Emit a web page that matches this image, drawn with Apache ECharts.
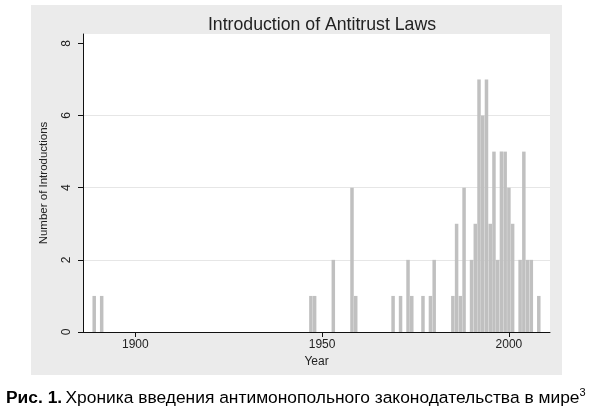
<!DOCTYPE html>
<html>
<head>
<meta charset="utf-8">
<script src="https://cdn.jsdelivr.net/npm/echarts@6/dist/echarts.min.js"></script>
<style>
  html, body { margin: 0; padding: 0; background: #fff; }
  #chart { width: 595px; height: 412px; }
</style>
</head>
<body>
<div id="chart"></div>
<script>
// years with at least one antitrust law introduced, and how many
var years = [1889, 1891, 1947, 1948, 1953, 1958, 1959, 1969, 1971, 1973, 1974, 1977, 1979, 1980,
  1985, 1986, 1987, 1988, 1990, 1991, 1992, 1993, 1994, 1995, 1996, 1997, 1998, 1999,
  2000, 2001, 2003, 2004, 2005, 2006, 2008];
var counts = [1, 1, 1, 1, 2, 4, 1, 1, 1, 2, 1, 1, 1, 2,
  1, 3, 1, 4, 2, 3, 7, 6, 7, 3, 5, 2, 5, 5,
  4, 3, 2, 5, 2, 2, 1];
var xTicks = [1900, 1950, 2000];
var yTicks = [0, 2, 4, 6, 8];

var font = 'Liberation Sans, Arial, sans-serif';
var chart = echarts.init(document.getElementById('chart'));

chart.setOption({
  backgroundColor: '#fff',
  animation: false,
  title: {
    text: 'Introduction of Antitrust Laws',
    left: 317,
    textAlign: 'center',
    top: 11,
    textStyle: { fontFamily: font, fontSize: 17.7, fontWeight: 'normal', color: '#222' }
  },
  graphic: [
    { // gray stata panel
      type: 'rect', z: -10, silent: true,
      shape: { x: 31, y: 5, width: 531, height: 370 },
      style: { fill: '#ebebeb' }
    },
    {
      type: 'text', left: 6, top: 387,
      style: {
        text: '{b|Рис. 1.} {n|Хроника введения антимонопольного законодательства в мире}{s|3}',
        rich: {
          b: { fontFamily: font, fontSize: 17.4, fontWeight: 'bold', color: '#111', lineHeight: 22 },
          n: { fontFamily: font, fontSize: 17.4, color: '#111', lineHeight: 22 },
          s: { fontFamily: font, fontSize: 11, color: '#111', verticalAlign: 'top', lineHeight: 22 }
        }
      }
    }
  ],
  grid: {
    left: 83, right: 45, top: 34, bottom: 80,
    show: true, backgroundColor: '#fff', borderWidth: 0
  },
  xAxis: {
    type: 'value',
    min: 1886,
    max: 2011,
    name: 'Year',
    nameLocation: 'middle',
    nameGap: 22,
    nameTextStyle: { fontFamily: font, fontSize: 12, color: '#222' },
    axisLine: { show: true, onZero: false, lineStyle: { color: '#111', width: 1 } },
    axisTick: { show: true, length: 5, customValues: xTicks, lineStyle: { color: '#111' } },
    axisLabel: {
      customValues: xTicks, margin: 7, fontFamily: font, fontSize: 12, color: '#222',
      formatter: function (v) { return String(v); }
    },
    splitLine: { show: false }
  },
  yAxis: {
    type: 'value',
    min: 0,
    max: 8.26,
    name: 'Number of Introductions',
    nameLocation: 'middle',
    nameRotate: 90,
    nameGap: 33,
    nameTextStyle: { fontFamily: font, fontSize: 11.5, color: '#222' },
    axisLine: { show: true, onZero: false, lineStyle: { color: '#111', width: 1 } },
    axisTick: { show: true, length: 5, customValues: yTicks, lineStyle: { color: '#111' } },
    axisLabel: { customValues: yTicks, rotate: 90, margin: 10, fontFamily: font, fontSize: 12, color: '#222' },
    splitLine: { show: true, showMaxLine: false, showMinLine: false, lineStyle: { color: '#e6e6e6', width: 1 } }
  },
  series: [{
    type: 'bar',
    barWidth: 3.5,
    data: years.map(function (y, i) { return [y, counts[i]]; }),
    itemStyle: { color: '#c0c0c0' }
  }]
});
</script>
</body>
</html>
